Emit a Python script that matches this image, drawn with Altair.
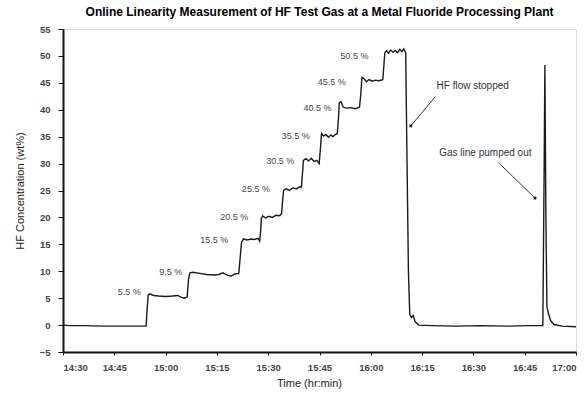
import altair as alt
import pandas as pd

# Time in minutes after 14:30, HF concentration (wt%)
minutes = [0, 2, 6, 12, 18, 24.3, 24.6, 24.9, 25.4, 26.5, 28, 30, 32, 33.5, 34.5, 35.5, 36.3,
           36.7, 37.1, 38, 40, 42, 44, 45.5, 46.8, 47.6, 48.4, 49.2, 50.2, 51.4,
           51.8, 52.2, 52.8, 53.8, 55, 56, 57, 57.5,
           57.8, 58.0, 58.4, 59.2, 60.2, 61.2, 62.3, 63.4, 63.9,
           64.2, 64.5, 65.2, 66.2, 67.2, 68.2, 69.2, 69.7,
           70.0, 70.3, 71, 71.8, 72.6, 73.4, 74.2, 74.9,
           75.3, 75.6, 76.2, 76.9, 77.6, 78.3, 79.0, 79.6, 80.2,
           80.5, 80.8, 81.3, 81.9, 82.8, 84, 85.5, 86.7,
           87.1, 87.4, 88, 88.7, 89.5, 90.4, 91.3, 92.3, 93.5,
           93.8, 94.1, 94.6, 95.2, 95.8, 96.5, 97.2, 97.8, 98.5, 99.1, 99.6, 100.2,
           100.6, 101.0, 101.4, 101.9, 102.4, 103.0, 104, 108, 115, 122, 130, 136, 140.3,
           140.7, 140.9, 141.2, 141.5, 142.0, 142.6, 143.5, 146, 150]
values = [0.0, -0.1, -0.1, -0.2, -0.2, -0.2, 3.0, 5.6, 5.8, 5.5, 5.4, 5.3, 5.4, 5.5, 5.2, 5.0, 5.2,
          8.5, 9.7, 9.8, 9.6, 9.4, 9.3, 9.4, 9.7, 9.4, 9.2, 9.1, 9.5, 9.6,
          12.5, 15.4, 16.0, 15.8, 16.0, 15.9, 16.1, 15.6,
          17.5, 19.8, 20.3, 19.9, 20.2, 20.0, 20.4, 20.3, 20.7,
          23.0, 25.0, 25.3, 25.0, 25.5, 25.3, 25.7, 25.6,
          28.0, 30.6, 30.9, 30.5, 31.0, 30.4, 30.6, 30.0,
          33.0, 35.6, 35.1, 35.4, 34.9, 35.3, 35.0, 35.4, 35.6,
          38.0, 41.3, 41.5, 40.5, 40.3, 40.4, 40.2, 40.5,
          43.0, 46.0, 45.8, 45.2, 45.6, 45.3, 45.5, 45.4, 45.6,
          48.0, 50.6, 51.0, 50.5, 51.1, 50.7, 51.0, 50.6, 51.2, 50.8, 51.3, 50.6,
          30.0, 10.0, 2.0, 1.4, 1.8, 0.6, 0.0, -0.1, -0.2, -0.1, -0.2, -0.1, -0.1,
          30.0, 48.3, 20.0, 3.4, 2.0, 0.8, 0.1, -0.2, -0.3]

step_text = ["5.5 %", "9.5 %", "15.5 %", "20.5 %", "25.5 %", "30.5 %",
             "35.5 %", "40.5 %", "45.5 %", "50.5 %"]
step_min = [19.4, 31.5, 44.2, 50.1, 56.4, 63.5, 68.1, 74.4, 78.6, 85.2]
step_val = [6.1, 9.8, 15.8, 20.1, 25.2, 30.5, 35.2, 40.3, 45.2, 50.0]

note_text = ["HF flow stopped", "Gas line pumped out"]
note_min = [119.8, 123.5]
note_val = [44.4, 32.0]
arrow_from_min = [108.8, 127.3]
arrow_from_val = [42.4, 30.2]
arrow_to_min = [101.7, 138.0]
arrow_to_val = [37.0, 23.6]

tick_minutes = [0, 15, 30, 45, 60, 75, 90, 105, 120, 135, 150]
y_ticks = [-5, 0, 5, 10, 15, 20, 25, 30, 35, 40, 45, 50, 55]

base = pd.Timestamp("2024-01-01 14:30:00")
def ts(m):
    return (base + pd.Timedelta(minutes=m)).strftime("%Y-%m-%dT%H:%M:%S")

def dt(m):
    t = base + pd.Timedelta(minutes=m)
    return alt.DateTime(year=2024, month=1, date=1, hours=t.hour, minutes=t.minute)

df = pd.DataFrame({"t": [ts(m) for m in minutes], "v": values})
steps = pd.DataFrame({"t": [ts(m) for m in step_min], "v": step_val, "label": step_text})
notes = pd.DataFrame({"t": [ts(m) for m in note_min], "v": note_val, "label": note_text})
arrows = pd.DataFrame({"t": [ts(m) for m in arrow_from_min], "v": arrow_from_val,
                       "t2": [ts(m) for m in arrow_to_min], "v2": arrow_to_val})

FONT = "Liberation Sans"
xscale = alt.Scale(domain=[dt(0), dt(150)])
yscale = alt.Scale(domain=[-5, 55], nice=False)

xaxis = alt.Axis(values=[dt(m) for m in tick_minutes], format="%H:%M",
                 tickSize=3, labelPadding=7, titleX=246, titleY=31, titleBaseline="middle")
yaxis = alt.Axis(values=y_ticks, tickSize=5, labelPadding=8, titlePadding=14)

line = alt.Chart(df).mark_line(color="#1a1a1a", strokeWidth=1.4, clip=True).encode(
    x=alt.X("t:T", scale=xscale, title="Time (hr:min)", axis=xaxis),
    y=alt.Y("v:Q", scale=yscale, title="HF Concentration (wt%)", axis=yaxis),
)

step_labels = alt.Chart(steps).mark_text(font=FONT, fontSize=9, color="#444").encode(
    x=alt.X("t:T", scale=xscale, title="Time (hr:min)", axis=xaxis),
    y=alt.Y("v:Q", scale=yscale, title="HF Concentration (wt%)", axis=yaxis),
    text="label:N")

note_labels = alt.Chart(notes).mark_text(font=FONT, fontSize=10, color="#333").encode(
    x=alt.X("t:T", scale=xscale, title="Time (hr:min)", axis=xaxis),
    y=alt.Y("v:Q", scale=yscale, title="HF Concentration (wt%)", axis=yaxis),
    text="label:N")

arrow_lines = alt.Chart(arrows).mark_rule(color="#333", strokeWidth=1).encode(
    x=alt.X("t:T", scale=xscale, title="Time (hr:min)", axis=xaxis),
    y=alt.Y("v:Q", scale=yscale, title="HF Concentration (wt%)", axis=yaxis),
    x2="t2:T", y2="v2:Q")

arrow_heads = alt.Chart(arrows).mark_point(shape="square", filled=True, size=8,
                                           color="#222", opacity=1).encode(
    x=alt.X("t2:T", scale=xscale, title="Time (hr:min)", axis=xaxis),
    y=alt.Y("v2:Q", scale=yscale, title="HF Concentration (wt%)", axis=yaxis))

chart = alt.layer(line, step_labels, note_labels, arrow_lines, arrow_heads).properties(
    width=513, height=323,
    autosize="none",
    padding={"left": 63, "top": 29, "right": 11, "bottom": 42},
    title=alt.TitleParams(
        "Online Linearity Measurement of HF Test Gas at a Metal Fluoride Processing Plant",
        font=FONT, fontSize=12, fontWeight="bold", color="#000", offset=5, anchor="middle"),
).configure_view(stroke="#111", strokeWidth=2).configure(background="white").configure_axis(
    grid=False, labelOverlap=False, labelFontSize=9.5, labelColor="#444", labelFont=FONT,
    labelFontWeight="bold", titleFont=FONT, titleFontSize=11, titleFontWeight="normal",
    titleColor="#222", domainColor="#111", domainWidth=2, tickColor="#111")

chart.save("out.html", embed_options={"renderer": "svg", "actions": False})
